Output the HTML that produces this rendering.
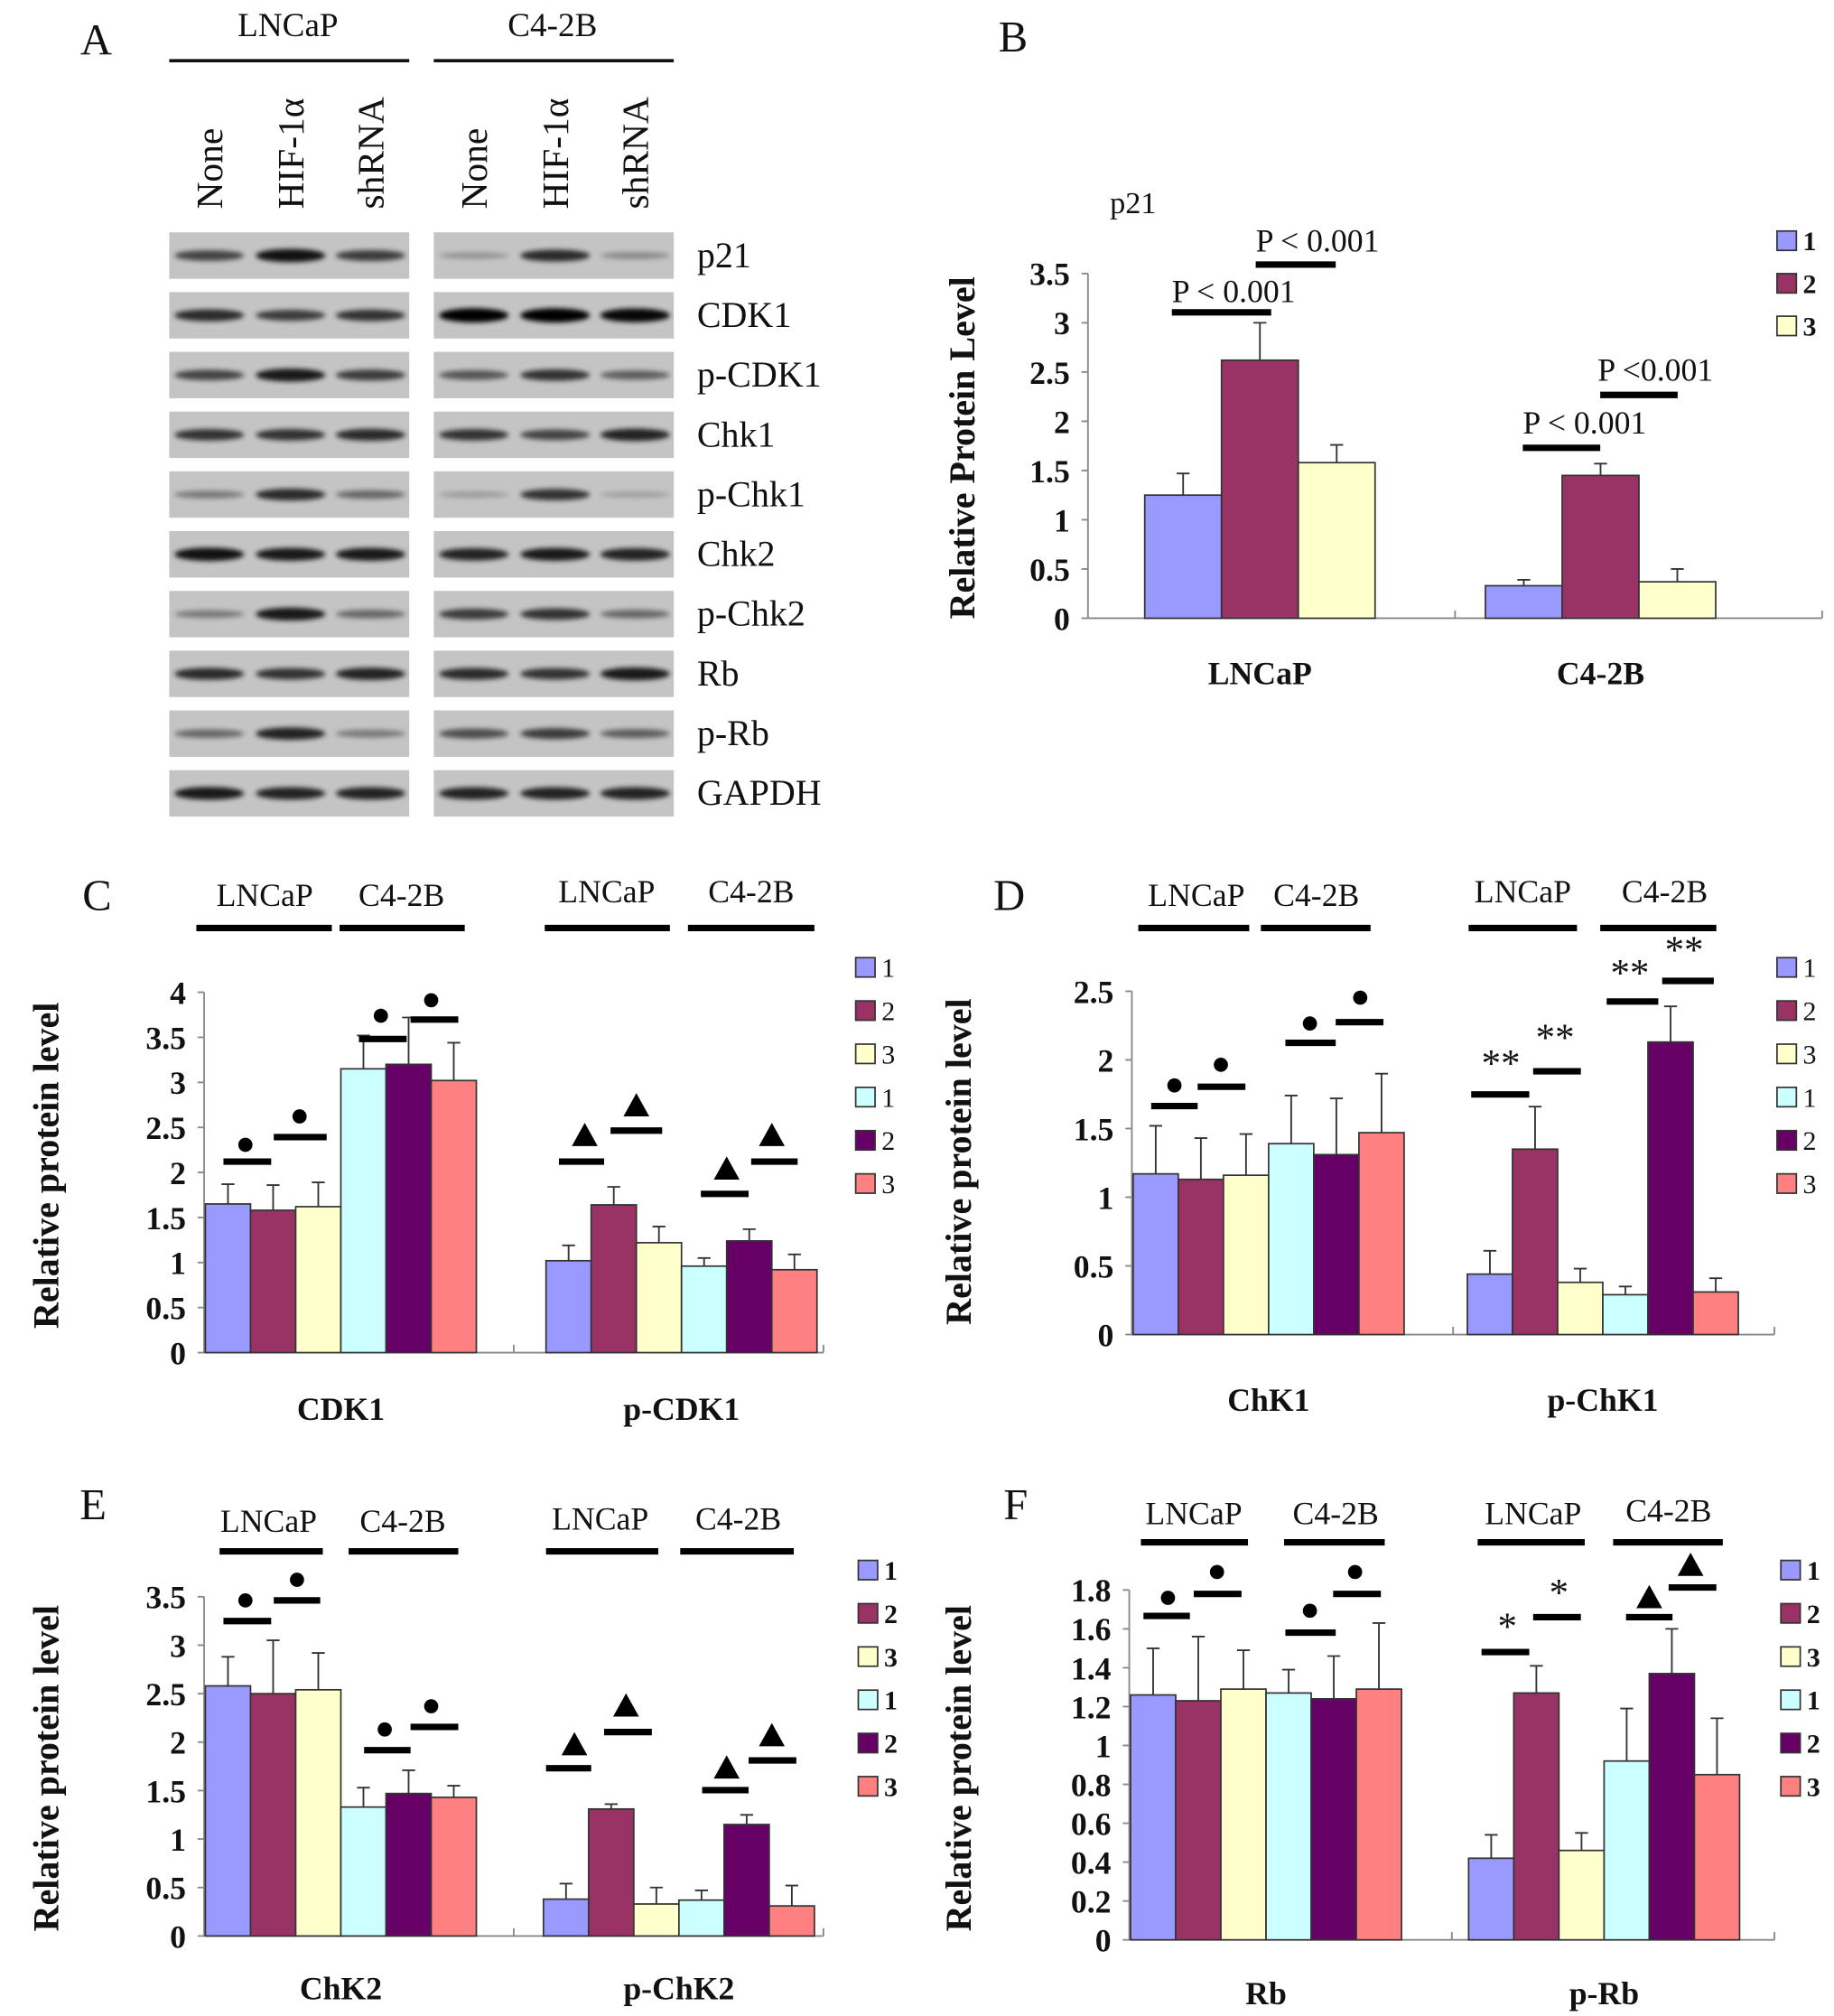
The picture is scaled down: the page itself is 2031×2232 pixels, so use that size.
<!DOCTYPE html>
<html><head><meta charset="utf-8">
<style>
html,body{margin:0;padding:0;background:#fff;}
svg{display:block;}
text{font-family:"Liberation Serif",serif;fill:#111;}
</style></head>
<body>
<svg id="fig" xmlns="http://www.w3.org/2000/svg" width="2031" height="2232" viewBox="0 0 1421 1562">
<defs><filter id="blur" x="-20%" y="-100%" width="140%" height="300%"><feGaussianBlur stdDeviation="1.8"/></filter></defs>
</svg>
<script>
// ---------- Data ----------
const blotRows = ["p21","CDK1","p-CDK1","Chk1","p-Chk1","Chk2","p-Chk2","Rb","p-Rb","GAPDH"];
const laneLabels = ["None","HIF-1\u03b1","shRNA"];
const bandP21 = [0.6,0.9,0.65,0.15,0.75,0.2];
const bandCDK1 = [0.75,0.65,0.7,1,1,0.95];
const bandPCDK1 = [0.6,0.85,0.65,0.5,0.7,0.45];
const bandChk1 = [0.7,0.7,0.75,0.7,0.6,0.8];
const bandPChk1 = [0.3,0.75,0.4,0.1,0.7,0.08];
const bandChk2 = [0.9,0.85,0.85,0.8,0.85,0.8];
const bandPChk2 = [0.3,0.85,0.4,0.65,0.7,0.4];
const bandRb = [0.75,0.7,0.8,0.75,0.7,0.85];
const bandPRb = [0.4,0.8,0.3,0.55,0.65,0.45];
const bandGAPDH = [0.85,0.8,0.8,0.8,0.8,0.8];

const bCategories = ["LNCaP","C4-2B"];
const bValues = [[1.25,2.62,1.58],[0.33,1.45,0.37]];
const bErrors = [[0.22,0.38,0.18],[0.06,0.12,0.13]];
const bTicks = ["0","0.5","1","1.5","2","2.5","3","3.5"];

const cCategories = ["CDK1","p-CDK1"];
const cValues = [[1.65,1.58,1.62,3.15,3.2,3.02],[1.02,1.64,1.22,0.96,1.24,0.92]];
const cErrors = [[0.22,0.28,0.27,0.37,0.52,0.42],[0.17,0.2,0.18,0.09,0.13,0.17]];
const cTicks = ["0","0.5","1","1.5","2","2.5","3","3.5","4"];

const dCategories = ["ChK1","p-ChK1"];
const dValues = [[1.17,1.13,1.16,1.39,1.31,1.47],[0.44,1.35,0.38,0.29,2.13,0.31]];
const dErrors = [[0.35,0.3,0.3,0.35,0.41,0.43],[0.17,0.31,0.1,0.06,0.26,0.1]];
const dTicks = ["0","0.5","1","1.5","2","2.5"];

const eCategories = ["ChK2","p-ChK2"];
const eValues = [[2.58,2.5,2.54,1.33,1.47,1.43],[0.38,1.31,0.33,0.37,1.15,0.31]];
const eErrors = [[0.3,0.55,0.38,0.2,0.24,0.12],[0.16,0.05,0.17,0.1,0.1,0.21]];
const eTicks = ["0","0.5","1","1.5","2","2.5","3","3.5"];

const fCategories = ["Rb","p-Rb"];
const fValues = [[1.26,1.23,1.29,1.27,1.24,1.29],[0.42,1.27,0.46,0.92,1.37,0.85]];
const fErrors = [[0.24,0.33,0.2,0.12,0.22,0.34],[0.12,0.14,0.09,0.27,0.23,0.29]];
const fTicks = ["0","0.2","0.4","0.6","0.8","1","1.2","1.4","1.6","1.8"];

const legend3 = ["1","2","3"];
const legend6 = ["1","2","3","1","2","3"];

// ---------- helpers ----------
const svg = document.getElementById('fig');
const NS = 'http://www.w3.org/2000/svg';
function mk(tag, attrs, parent, txt){
  const e = document.createElementNS(NS, tag);
  for (const k in attrs) e.setAttribute(k, attrs[k]);
  if (txt !== undefined) e.textContent = txt;
  (parent || svg).appendChild(e);
  return e;
}
function txt(x,y,s,size,opts,parent){
  opts = opts||{};
  const t = mk('text',{x:x,y:y,'font-size':size,'text-anchor':opts.anchor||'start','font-weight':opts.bold?'bold':'normal'},parent,s);
  if (opts.transform) t.setAttribute('transform',opts.transform);
  return t;
}
const colors = ["#9999ff","#993366","#ffffcc","#ccffff","#660066","#ff8080"];

// ---------- Panel A ----------
const gA = mk('g',{});


txt(62,42,"A",34,{},gA);
txt(223,28,"LNCaP",26,{anchor:'middle'},gA);
txt(428,28,"C4-2B",26,{anchor:'middle'},gA);
mk('line',{x1:131,y1:47,x2:317,y2:47,stroke:'#111','stroke-width':2.5},gA);
mk('line',{x1:336,y1:47,x2:522,y2:47,stroke:'#111','stroke-width':2.5},gA);
const laneX = [162,225,287,367,430,492];
laneX.forEach((x,i)=>{
  const t = txt(x+10,162,laneLabels[i%3],29,{transform:`rotate(-90 ${x+10} 162)`},gA);
  
  
});
const bandData = [bandP21,bandCDK1,bandPCDK1,bandChk1,bandPChk1,bandChk2,bandPChk2,bandRb,bandPRb,bandGAPDH];
blotRows.forEach((name,r)=>{
  const y = 180 + r*46.3;
  [131,336].forEach((bx,side)=>{
    const p = mk('rect',{x:bx,y:y,width:186,height:36,fill:'#c4c4c4'},gA);
    
    
  });
  bandData[r].forEach((v,i)=>{
    const b = mk('ellipse',{cx:laneX[i],cy:y+18,rx:27,ry:2+v*3.5,fill:'#000',opacity:(0.12+v*0.88).toFixed(2),filter:'url(#blur)'},gA);
    
    
  });
  const l = txt(540,y+27,name,28,{},gA);
  
  
});

// ---------- generic bar chart ----------
function barChart(cfg){
  const g = mk('g',{});
  
  
  const yS = v => cfg.y0 - v*cfg.ppu;
  const tickStep = cfg.tickStep;
  mk('line',{x1:cfg.ax,y1:yS(tickStep*(cfg.ticks.length-1)),x2:cfg.ax,y2:cfg.y0,stroke:'#888','stroke-width':1.3},g);
  mk('line',{x1:cfg.ax,y1:cfg.y0,x2:cfg.axEnd,y2:cfg.y0,stroke:'#888','stroke-width':1.3},g);
  [cfg.ax+(cfg.axEnd-cfg.ax)/2, cfg.axEnd].forEach(x=>mk('line',{x1:x,y1:cfg.y0,x2:x,y2:cfg.y0-6,stroke:'#888','stroke-width':1.3},g));
  cfg.ticks.forEach((t,i)=>{
    const y = yS(i*tickStep);
    mk('line',{x1:cfg.ax-5,y1:y,x2:cfg.ax,y2:y,stroke:'#888','stroke-width':1.3},g);
    const tl = txt(cfg.ax-14,y+9,t,25,{anchor:'end',bold:true},g);
    
    
  });
  const yt = txt(cfg.titleX,cfg.titleY,cfg.title,28,{anchor:'middle',bold:true,transform:`rotate(-90 ${cfg.titleX} ${cfg.titleY})`},g);
  
  
  cfg.values.forEach((grp,gi)=>{
    const gx = cfg.groupX[gi];
    grp.forEach((v,bi)=>{
      const x = gx + bi*cfg.bw;
      const col = cfg.colors[bi];
      const r = mk('rect',{x:x,y:yS(v),width:cfg.bw,height:v*cfg.ppu,fill:col,stroke:'#333','stroke-width':1.2},g);
      
      
      const e = cfg.errors[gi][bi];
      const cx = x + cfg.bw/2;
      const eb = mk('path',{d:`M${cx} ${yS(v)}V${yS(v+e)}M${cx-5} ${yS(v+e)}H${cx+5}`,stroke:'#333','stroke-width':1.3,fill:'none'},g);
      
      
    });
    const cl = txt(gx + grp.length*cfg.bw/2 + cfg.catDx, cfg.catY, cfg.categories[gi], 25, {anchor:'middle',bold:true}, g);
    
    
  });
  cfg.legend.forEach((s,i)=>{
    const ly = cfg.legY + i*cfg.legStep;
    const lr = mk('rect',{x:cfg.legX,y:ly,width:15,height:15,fill:cfg.colors[i],stroke:'#333','stroke-width':1.2},g);
    
    
    const lt = txt(cfg.legX+20,ly+15,s,21,{bold:cfg.legBold},g);
    
    
  });
  return g;
}
function sig(g,x1,x2,y,mark,mx,my){
  const l = mk('line',{x1:x1,y1:y,x2:x2,y2:y,stroke:'#000','stroke-width':5},g);
  
  
  let m;
  if (mark==='dot') m = mk('circle',{cx:mx,cy:my,r:5.5,fill:'#000'},g);
  else if (mark==='tri') m = mk('path',{d:`M${mx} ${my-10}L${mx+10} ${my+8}L${mx-10} ${my+8}Z`,fill:'#000'},g);
  else m = txt(mx,my+12,mark,30,{anchor:'middle'},g);
  
  
}
function header(g,letter,lx,ly,items){
  txt(lx,ly,letter,34,{anchor:'middle'},g);
  items.forEach(it=>{
    const t = txt(it[0],it[1],it[2],25,{anchor:'middle'},g);
    
    
    mk('line',{x1:it[3],y1:it[4],x2:it[5],y2:it[4],stroke:'#000','stroke-width':5},g);
  });
}

// ---------- Panel B ----------
const gB = barChart({name:'panel-b-p21-chart',ax:843,axEnd:1412,y0:479,ppu:76.3,tickStep:0.5,ticks:bTicks,
  title:'Relative Protein Level',titleX:755,titleY:347,values:bValues,errors:bErrors,groupX:[887,1151],bw:59.5,
  colors:colors.slice(0,3),categories:bCategories,catY:530,catDx:0,legend:legend3,legX:1377,legY:179,legStep:33,legBold:true});
txt(785,40,"B",34,{anchor:'middle'},gB);
txt(860,165,"p21",24,{},gB);
[[908,985,242,'P < 0.001',908,234],[973,1035,205,'P < 0.001',973,195],[1180,1240,347,'P < 0.001',1180,336],[1240,1300,306,'P <0.001',1238,295]].forEach(s=>{
  mk('line',{x1:s[0],y1:s[2],x2:s[1],y2:s[2],stroke:'#000','stroke-width':5},gB);
  const t = txt(s[4],s[5],s[3],25,{},gB);
  
  
});

// ---------- Panel C ----------
const gC = barChart({name:'panel-c-cdk1-chart',ax:158,axEnd:638,y0:1048,ppu:69.8,tickStep:0.5,ticks:cTicks,
  title:'Relative protein level',titleX:45,titleY:903,values:cValues,errors:cErrors,groupX:[159,423],bw:35,
  colors:colors,categories:cCategories,catY:1100,catDx:0,legend:legend6,legX:663,legY:742,legStep:33.5,legBold:false});
header(gC,"C",75,705,[[205,702,"LNCaP",152,719,257],[311,702,"C4-2B",263,719,360],[470,699,"LNCaP",422,719,519],[582,699,"C4-2B",533,719,631]]);
sig(gC,173,210,900,'dot',190,887);sig(gC,212,253,881,'dot',232,865);
sig(gC,278,315,805,'dot',295,787);sig(gC,318,355,790,'dot',334,775);
sig(gC,433,468,900,'tri',453,880);sig(gC,473,513,876,'tri',493,857);
sig(gC,543,580,925,'tri',563,906);sig(gC,582,618,900,'tri',598,880);

// ---------- Panel D ----------
const gD = barChart({name:'panel-d-chk1-chart',ax:877,axEnd:1375,y0:1034,ppu:106.4,tickStep:0.5,ticks:dTicks,
  title:'Relative protein level',titleX:752,titleY:900,values:dValues,errors:dErrors,groupX:[878,1137],bw:35,
  colors:colors,categories:dCategories,catY:1093,catDx:0,legend:legend6,legX:1377,legY:742,legStep:33.5,legBold:false});
header(gD,"D",782,705,[[927,702,"LNCaP",882,719,968],[1020,702,"C4-2B",977,719,1062],[1180,699,"LNCaP",1138,719,1222],[1290,699,"C4-2B",1240,719,1330]]);
sig(gD,892,928,857,'dot',910,841);sig(gD,928,965,842,'dot',946,825);
sig(gD,996,1035,808,'dot',1015,793);sig(gD,1035,1072,792,'dot',1054,773);
sig(gD,1140,1185,848,'**',1163,822);sig(gD,1188,1225,830,'**',1205,802);
sig(gD,1245,1285,776,'**',1263,752);sig(gD,1288,1328,760,'**',1305,734);

// ---------- Panel E ----------
const gE = barChart({name:'panel-e-chk2-chart',ax:158,axEnd:638,y0:1500,ppu:75.1,tickStep:0.5,ticks:eTicks,
  title:'Relative protein level',titleX:45,titleY:1370,values:eValues,errors:eErrors,groupX:[159,421],bw:35,
  colors:colors,categories:eCategories,catY:1549,catDx:0,legend:legend6,legX:665,legY:1209,legStep:33.5,legBold:true});
header(gE,"E",72,1177,[[208,1187,"LNCaP",170,1202,250],[312,1187,"C4-2B",270,1202,355],[465,1185,"LNCaP",423,1202,510],[572,1185,"C4-2B",527,1202,615]]);
sig(gE,173,210,1256,'dot',190,1240);sig(gE,212,248,1240,'dot',230,1224);
sig(gE,282,318,1356,'dot',298,1340);sig(gE,318,355,1338,'dot',334,1322);
sig(gE,423,458,1370,'tri',445,1352);sig(gE,468,505,1342,'tri',485,1322);
sig(gE,544,580,1387,'tri',563,1370);sig(gE,580,617,1364,'tri',598,1345);

// ---------- Panel F ----------
const gF = barChart({name:'panel-f-rb-chart',ax:875,axEnd:1375,y0:1503,ppu:150.6,tickStep:0.2,ticks:fTicks,
  title:'Relative protein level',titleX:752,titleY:1370,values:fValues,errors:fErrors,groupX:[876,1138],bw:35,
  colors:colors,categories:fCategories,catY:1553,catDx:0,legend:legend6,legX:1380,legY:1209,legStep:33.5,legBold:true});
header(gF,"F",787,1177,[[925,1181,"LNCaP",884,1195,967],[1035,1181,"C4-2B",995,1195,1073],[1188,1181,"LNCaP",1145,1195,1228],[1293,1179,"C4-2B",1250,1195,1335]]);
sig(gF,886,922,1252,'dot',905,1238);sig(gF,925,962,1235,'dot',943,1218);
sig(gF,996,1035,1265,'dot',1015,1248);sig(gF,1033,1070,1235,'dot',1050,1218);
sig(gF,1148,1185,1280,'*',1168,1258);sig(gF,1188,1225,1253,'*',1208,1232);
sig(gF,1260,1296,1253,'tri',1278,1238);sig(gF,1293,1330,1230,'tri',1310,1213);
</script>
</body></html>
